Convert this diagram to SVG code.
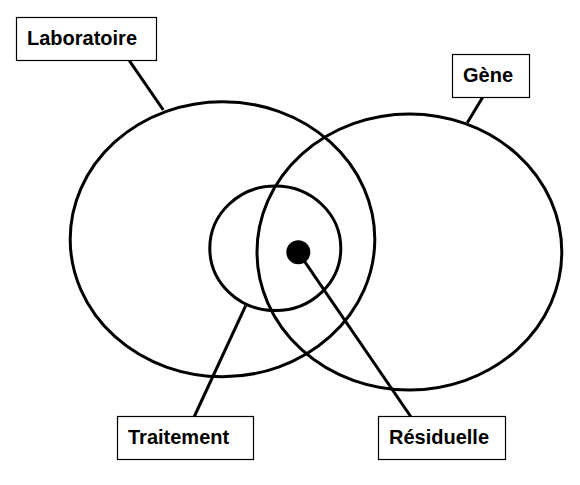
<svg xmlns="http://www.w3.org/2000/svg" width="580" height="485" viewBox="0 0 580 485">
<style>
.sh{fill:none;stroke:#000;stroke-width:3}
.box{fill:#fff;stroke:#000;stroke-width:1.2}
.lbl{font-family:"Liberation Sans",Arial,sans-serif;font-weight:bold;font-size:20px;fill:#000}
.ln{stroke:#000;stroke-width:3;fill:none}
</style>
<rect width="580" height="485" fill="#fff"/>
<g id="shapes">
<ellipse id="laboratoire-set" class="sh" cx="222.5" cy="239.2" rx="152.3" ry="137.5"/>
<ellipse id="gene-set" class="sh" cx="409.4" cy="252" rx="152.4" ry="138"/>
<ellipse id="traitement-set" class="sh" cx="275.3" cy="248.3" rx="65.5" ry="62.3"/>
<circle id="residuelle-dot" cx="298.3" cy="252.3" r="12" fill="#000"/>
</g>
<g id="connectors">
<line class="ln" x1="129.3" y1="60.7" x2="163.3" y2="110"/>
<line class="ln" x1="482.7" y1="97.3" x2="467.3" y2="122.7"/>
<line class="ln" x1="194.3" y1="416.5" x2="245.7" y2="305.7"/>
<line class="ln" x1="298.3" y1="252.3" x2="410.7" y2="416.5"/>
</g>
<g id="laboratoire">
<rect class="box" x="16.5" y="17.5" width="140" height="43"/>
<text class="lbl" x="27" y="45">Laboratoire</text>
</g>
<g id="gene">
<rect class="box" x="452.5" y="54.5" width="77" height="43"/>
<text class="lbl" x="488" y="82" text-anchor="middle">Gène</text>
</g>
<g id="traitement">
<rect class="box" x="117.5" y="416.5" width="136" height="43"/>
<text class="lbl" x="128" y="444">Traitement</text>
</g>
<g id="residuelle">
<rect class="box" x="378.5" y="416.5" width="127" height="43"/>
<text class="lbl" x="389" y="444">Résiduelle</text>
</g>
</svg>
